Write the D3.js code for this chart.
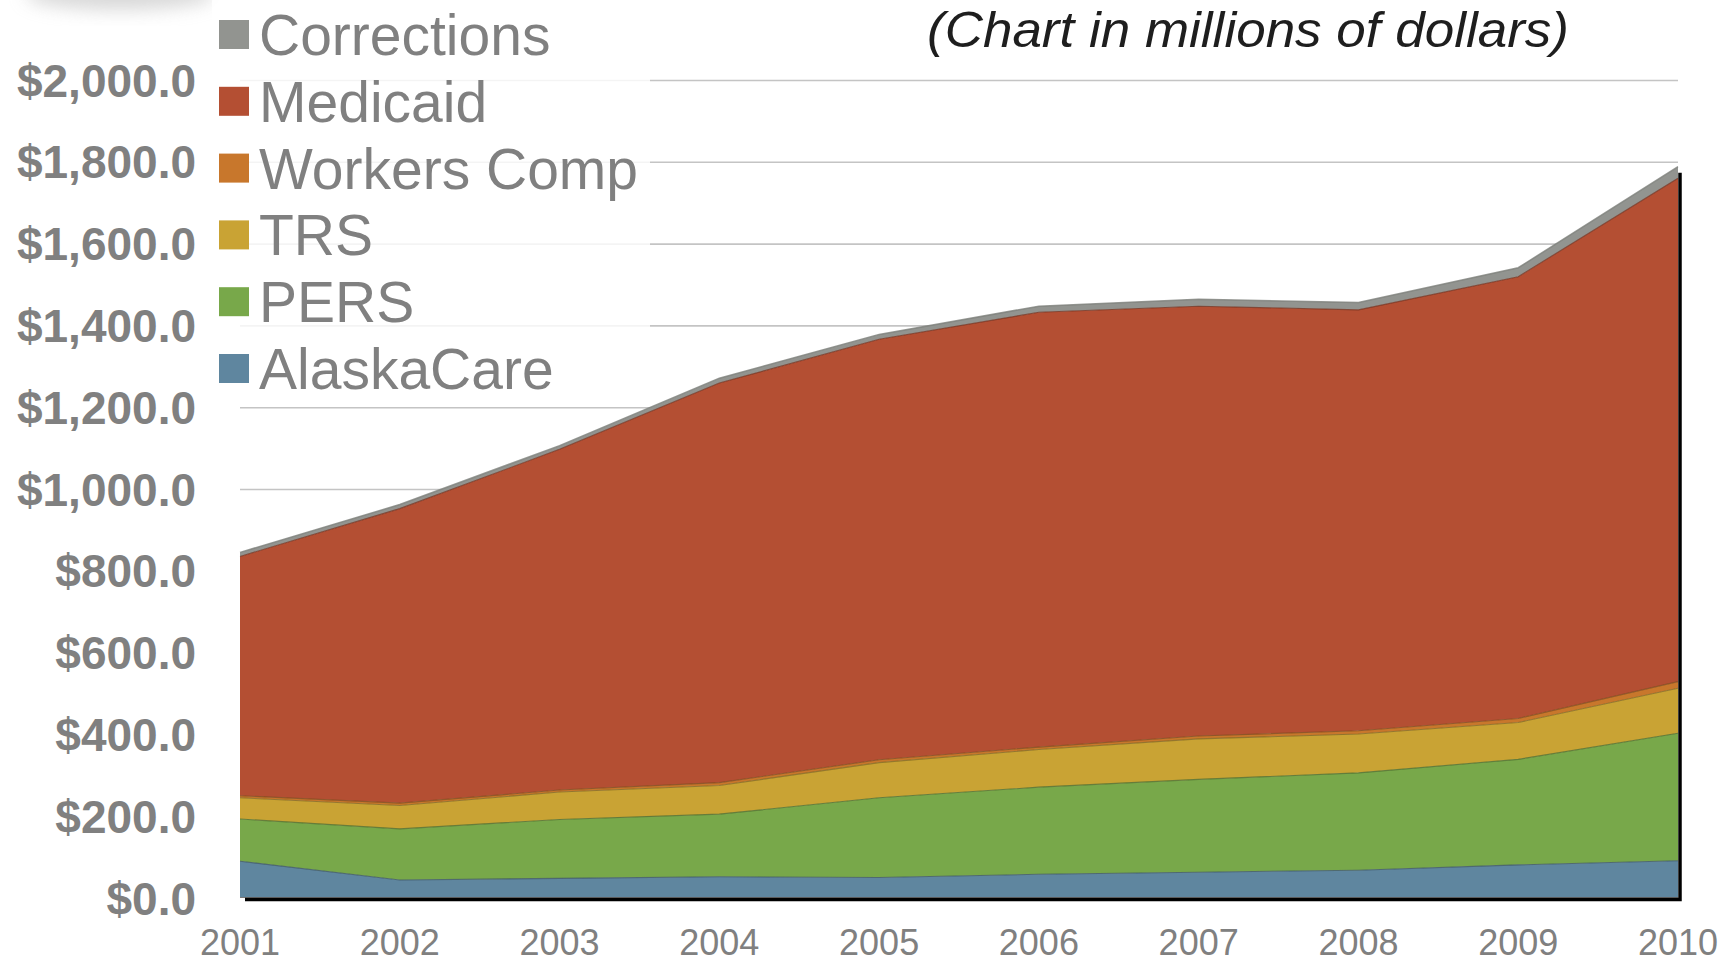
<!DOCTYPE html>
<html>
<head>
<meta charset="utf-8">
<script src="https://cdn.jsdelivr.net/npm/d3@7"></script>
<style>
  html, body { margin: 0; padding: 0; background: #ffffff; }
  svg { display: block; }
  text { font-family: "Liberation Sans", Arial, Helvetica, sans-serif; }
</style>
</head>
<body>
<svg id="chart" width="1736" height="962"></svg>
<script>
// ---- Data (millions of dollars) ----
const years = [2001, 2002, 2003, 2004, 2005, 2006, 2007, 2008, 2009, 2010];
const alaskaCare   = [90, 44, 48, 52, 50, 58, 63, 68, 81, 91];
const pers         = [103, 125, 144, 153, 195, 213, 227, 238, 258, 312];
const trs          = [52, 57, 67, 70, 86, 92, 99, 95, 90, 110];
const workersComp  = [5, 6, 5, 7, 7, 6, 7, 8, 10, 16];
const medicaid     = [585, 720, 833, 977, 1028, 1063, 1051, 1029, 1080, 1231];
const corrections  = [10, 10, 9, 12, 12, 15, 17, 18, 22, 28];
const seriesNames  = ["AlaskaCare", "PERS", "TRS", "Workers Comp", "Medicaid", "Corrections"];
const seriesColors = ["#5f869f", "#78a84a", "#c9a334", "#c8772c", "#b44f33", "#929490"];
const yTicks = [0, 200, 400, 600, 800, 1000, 1200, 1400, 1600, 1800, 2000];
const titleText = "(Chart in millions of dollars)";

const seriesValues = [alaskaCare, pers, trs, workersComp, medicaid, corrections];
const table = years.map((yr, i) => {
  const row = { year: yr };
  seriesNames.forEach((n, k) => row[n] = seriesValues[k][i]);
  return row;
});

const svg = d3.select("#chart");
const x = d3.scaleLinear().domain([2001, 2010]).range([240, 1678]);
const y = d3.scaleLinear().domain([0, 2000]).range([898, 80]);

// faint blurred shadow at top-left
const defs = svg.append("defs");
defs.append("filter").attr("id", "blur").attr("x", "-50%").attr("y", "-50%").attr("width", "200%").attr("height", "200%")
  .append("feGaussianBlur").attr("stdDeviation", 9);
svg.append("ellipse").attr("cx", 120).attr("cy", -6).attr("rx", 95).attr("ry", 16)
  .attr("fill", "#b8b8b8").attr("opacity", 0.55).attr("filter", "url(#blur)");

// gridlines
const grid = svg.append("g").attr("transform", `translate(${x.range()[0]},0)`)
  .call(d3.axisLeft(y).tickValues(yTicks.filter(d => d > 0)).tickSize(-(x.range()[1] - x.range()[0])).tickFormat(""));
grid.select(".domain").remove();
grid.selectAll(".tick line").attr("stroke", "#c4c4c4").attr("stroke-width", 1.6);

// y tick labels
svg.append("g").selectAll("text").data(yTicks).join("text")
  .attr("x", 196).attr("y", d => y(d)).attr("dy", "0.36em")
  .attr("text-anchor", "end").attr("font-weight", "bold").attr("font-size", 46)
  .attr("fill", "#808080")
  .text(d => "$" + d3.format(",.1f")(d));

// stacked areas
const stack = d3.stack().keys(seriesNames);
const layers = stack(table);
const area = d3.area().x(d => x(d.data.year)).y0(d => y(d[0])).y1(d => y(d[1]));
const topLine = d3.line().x(d => x(d.data.year)).y(d => y(d[1]));

svg.append("g").selectAll("path").data(layers).join("path")
  .attr("d", area).attr("fill", (d, i) => seriesColors[i]);
svg.append("g").selectAll("path").data(layers).join("path")
  .attr("d", topLine).attr("fill", "none")
  .attr("stroke", (d, i) => i === 5 ? "#7d7f7a" : d3.color(seriesColors[i]).darker(1.2))
  .attr("stroke-width", (d, i) => i === 5 ? 1.5 : 1.1).attr("opacity", 0.8);

// baseline gray edge
svg.append("line").attr("x1", x(2001)).attr("x2", x(2010)).attr("y1", y(0) - 0.5).attr("y2", y(0) - 0.5)
  .attr("stroke", "#7a7a7a").attr("stroke-width", 1);

// 3D-like black shadow on bottom and right
const total2010 = layers[5][layers[5].length - 1][1];
svg.append("path")
  .attr("d", `M${x(2001) + 5},${y(0) + 1.5} H${x(2010) + 2} V${y(total2010) + 6}`)
  .attr("fill", "none").attr("stroke", "#000").attr("stroke-width", 3.5);

// x axis labels
svg.append("g").selectAll("text").data(years).join("text")
  .attr("x", d => x(d)).attr("y", 955).attr("text-anchor", "middle")
  .attr("font-size", 36).attr("fill", "#808080").text(d => d);

// legend background (semi-transparent white)
svg.append("rect").attr("x", 212).attr("y", 0).attr("width", 438).attr("height", 398)
  .attr("fill", "#ffffff").attr("opacity", 0.82);

const legendOrder = seriesNames.map((n, i) => ({ name: n, color: seriesColors[i] })).reverse();
const lg = svg.append("g").selectAll("g").data(legendOrder).join("g")
  .attr("transform", (d, i) => `translate(0,${55 + i * 66.8})`);
lg.append("rect").attr("x", 219).attr("y", -35).attr("width", 30).attr("height", 29)
  .attr("fill", d => d.color);
lg.append("text").attr("x", 259).attr("y", 0).attr("font-size", 57).attr("fill", "#808080")
  .text(d => d.name);

// title
svg.append("text").attr("x", 927).attr("y", 47).attr("font-size", 50).attr("font-style", "italic")
  .attr("fill", "#1e1e1e").attr("textLength", 642).attr("lengthAdjust", "spacingAndGlyphs")
  .text(titleText);
</script>
</body>
</html>
